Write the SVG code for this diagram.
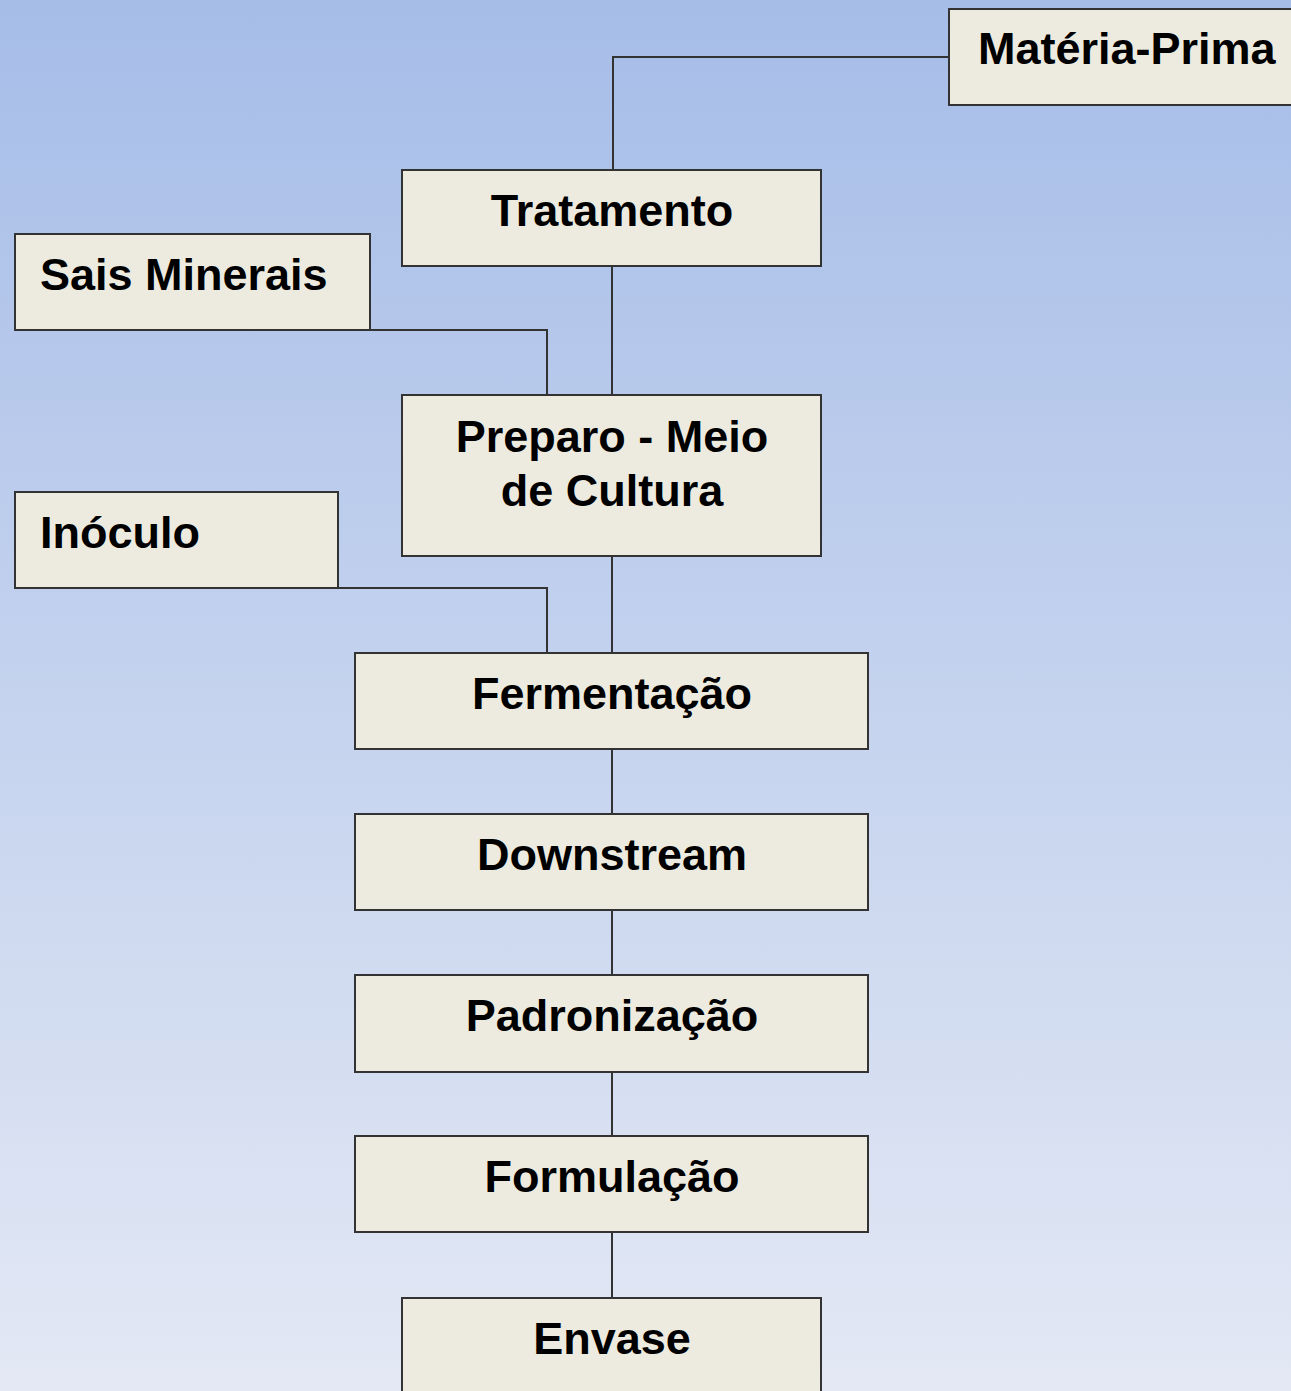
<svg xmlns="http://www.w3.org/2000/svg" width="1291" height="1391" viewBox="0 0 1291 1391">
<defs>
<linearGradient id="bg" x1="0" y1="0" x2="0" y2="1">
<stop offset="0" stop-color="#a6bde8"/>
<stop offset="1" stop-color="#e3e8f4"/>
</linearGradient>
</defs>
<style>
.box{fill:#edebe0;stroke:#333;stroke-width:2}
.t{font-family:"Liberation Sans",Arial,sans-serif;font-weight:bold;font-size:45px;fill:#000}
.c{text-anchor:middle}
.ln{fill:none;stroke:#333;stroke-width:2}
</style>
<rect width="1291" height="1391" fill="url(#bg)"/>
<g id="connectors">
<polyline class="ln" points="949,57 613,57 613,170"/>
<line class="ln" x1="612" y1="266" x2="612" y2="395"/>
<polyline class="ln" points="48,330 547,330 547,395"/>
<line class="ln" x1="612" y1="556" x2="612" y2="653"/>
<polyline class="ln" points="48,588 547,588 547,653"/>
<line class="ln" x1="612" y1="749" x2="612" y2="814"/>
<line class="ln" x1="612" y1="910" x2="612" y2="975"/>
<line class="ln" x1="612" y1="1072" x2="612" y2="1136"/>
<line class="ln" x1="612" y1="1232" x2="612" y2="1298"/>
</g>
<g id="materia-prima"><rect class="box" x="949" y="9" width="350" height="96"/><text class="t" x="978" y="64">Matéria-Prima</text></g>
<g id="tratamento"><rect class="box" x="402" y="170" width="419" height="96"/><text class="t c" x="612" y="226">Tratamento</text></g>
<g id="sais-minerais"><rect class="box" x="15" y="234" width="355" height="96"/><text class="t" x="40" y="290">Sais Minerais</text></g>
<g id="preparo"><rect class="box" x="402" y="395" width="419" height="161"/><text class="t c" x="612" y="452">Preparo - Meio</text><text class="t c" x="612" y="506">de Cultura</text></g>
<g id="inoculo"><rect class="box" x="15" y="492" width="323" height="96"/><text class="t" x="40" y="548">Inóculo</text></g>
<g id="fermentacao"><rect class="box" x="355" y="653" width="513" height="96"/><text class="t c" x="612" y="709">Fermentação</text></g>
<g id="downstream"><rect class="box" x="355" y="814" width="513" height="96"/><text class="t c" x="612" y="870">Downstream</text></g>
<g id="padronizacao"><rect class="box" x="355" y="975" width="513" height="97"/><text class="t c" x="612" y="1031">Padronização</text></g>
<g id="formulacao"><rect class="box" x="355" y="1136" width="513" height="96"/><text class="t c" x="612" y="1192">Formulação</text></g>
<g id="envase"><rect class="box" x="402" y="1298" width="419" height="110"/><text class="t c" x="612" y="1354">Envase</text></g>
</svg>
